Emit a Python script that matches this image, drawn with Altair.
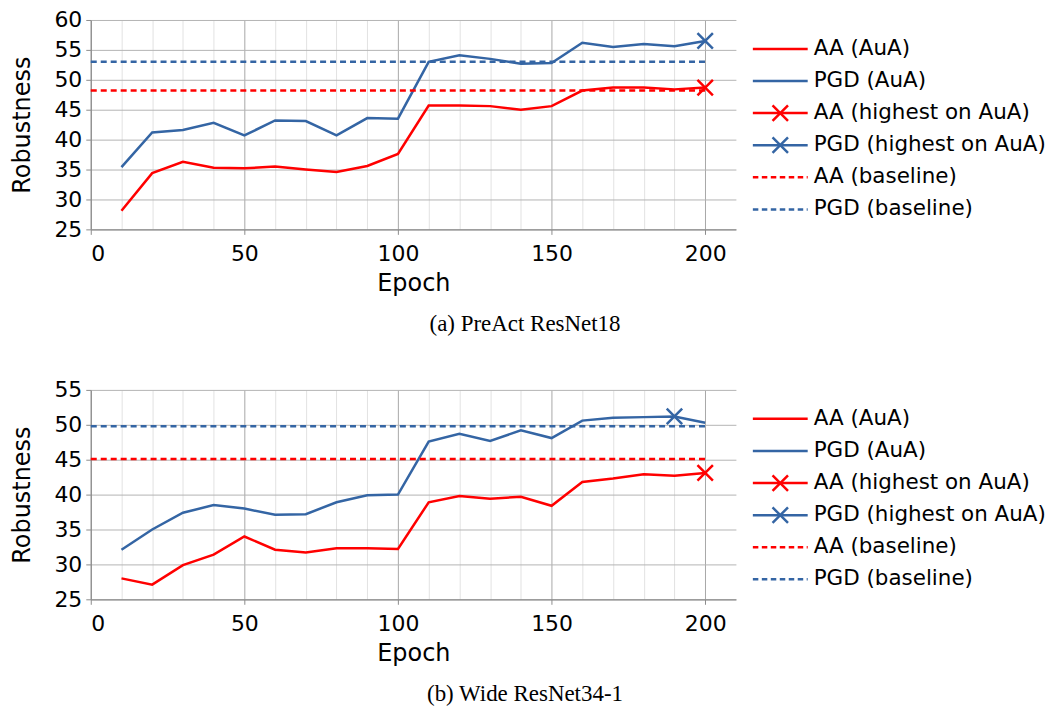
import altair as alt
import pandas as pd

# ---------------- data ----------------
epochs = [10, 20, 30, 40, 50, 60, 70, 80, 90, 100,
          110, 120, 130, 140, 150, 160, 170, 180, 190, 200]

a_aa = [28.1, 34.4, 36.3, 35.3, 35.2, 35.5, 35.0, 34.6, 35.6, 37.6,
        45.7, 45.7, 45.6, 45.0, 45.6, 48.2, 48.7, 48.7, 48.4, 48.7]
a_pgd = [35.4, 41.2, 41.6, 42.8, 40.7, 43.2, 43.1, 40.7, 43.6, 43.5,
         53.0, 54.1, 53.5, 52.7, 52.8, 56.2, 55.5, 56.0, 55.6, 56.5]
a_base = [48.2, 53.0]          # AA, PGD baselines
a_best = [200, 200]            # epoch of highest AuA: AA, PGD

b_aa = [28.0, 27.1, 29.9, 31.4, 34.0, 32.1, 31.7, 32.3, 32.3, 32.2,
        38.9, 39.8, 39.4, 39.7, 38.4, 41.8, 42.3, 42.9, 42.7, 43.1]
b_pgd = [32.1, 35.0, 37.4, 38.5, 38.0, 37.1, 37.2, 38.9, 39.9, 40.0,
         47.6, 48.7, 47.7, 49.2, 48.1, 50.6, 51.0, 51.1, 51.2, 50.3]
b_base = [45.1, 49.8]
b_best = [200, 190]

series = ["AA", "PGD"]
legend_labels = ["AA (AuA)", "PGD (AuA)", "AA (highest on AuA)",
                 "PGD (highest on AuA)", "AA (baseline)", "PGD (baseline)"]
legend_series = ["AA", "PGD", "AA", "PGD", "AA", "PGD"]
legend_kind = ["line", "line", "marker", "marker", "dash", "dash"]

RED = "#ff0000"
BLUE = "#3465a4"
COLORS = {"AA": RED, "PGD": BLUE}
XSHAPE = "M-1,-1L1,1M-1,1L1,-1"
FONT = "DejaVu Sans"


def panel(aa, pgd, base, best, ydom, height, caption):
    lines_df = pd.DataFrame({
        "epoch": epochs * 2,
        "value": aa + pgd,
        "series": ["AA"] * len(aa) + ["PGD"] * len(pgd),
    })
    base_df = pd.DataFrame({
        "series": series,
        "value": base,
        "x0": [0, 0],
        "x1": [epochs[-1], epochs[-1]],
    })
    best_vals = [aa[epochs.index(best[0])], pgd[epochs.index(best[1])]]
    best_df = pd.DataFrame({"series": series, "epoch": best, "value": best_vals})

    xscale = alt.Scale(domain=[0, 210], nice=False, zero=False)
    yscale = alt.Scale(domain=ydom, nice=False, zero=False)
    cscale = alt.Scale(domain=series, range=[RED, BLUE])

    xaxis = alt.Axis(
        values=list(range(0, 201, 10)),
        title="Epoch",
        labelOverlap=False,
        labelExpr="datum.value % 50 === 0 ? datum.label : ''",
        gridColor=alt.condition("datum.value % 50 === 0",
                                alt.value("#a8a8a8"), alt.value("#e2e2e2")),
        tickOpacity=alt.condition("datum.value % 50 === 0",
                                  alt.value(1), alt.value(0)),
    )
    yaxis = alt.Axis(values=list(range(ydom[0], ydom[1] + 1, 5)),
                     labelOverlap=False, title="Robustness")

    lines = alt.Chart(lines_df).mark_line(strokeWidth=2.5).encode(
        x=alt.X("epoch:Q", scale=xscale, axis=xaxis),
        y=alt.Y("value:Q", scale=yscale, axis=yaxis),
        color=alt.Color("series:N", scale=cscale, legend=None),
        detail="series:N",
    )
    baselines = alt.Chart(base_df).mark_rule(strokeWidth=2.5, strokeDash=[6, 4]).encode(
        x=alt.X("x0:Q", scale=xscale, axis=xaxis),
        x2="x1:Q",
        y=alt.Y("value:Q", scale=yscale, axis=yaxis),
        color=alt.Color("series:N", scale=cscale, legend=None),
    )
    bests = alt.Chart(best_df).mark_point(
        shape=XSHAPE, size=240, strokeWidth=2.5, filled=False, opacity=1
    ).encode(
        x=alt.X("epoch:Q", scale=xscale, axis=xaxis),
        y=alt.Y("value:Q", scale=yscale, axis=yaxis),
        color=alt.Color("series:N", scale=cscale, legend=None),
    )
    plot = alt.layer(lines, baselines, bests)

    # ----- hand-built legend (own ordinal scale) -----
    leg_df = pd.DataFrame({
        "label": legend_labels,
        "color": [COLORS[s] for s in legend_series],
        "kind": legend_kind,
    })
    lscale = alt.Scale(type="point", domain=legend_labels, range=[29, 190], padding=0)
    ly = alt.Y("label:N", scale=lscale, axis=None)
    lbase = alt.Chart(leg_df)
    leg_solid = lbase.transform_filter("datum.kind !== 'dash'").mark_rule(
        strokeWidth=2.5).encode(
        x=alt.value(664), x2=alt.value(719), y=ly,
        color=alt.Color("color:N", scale=None))
    leg_dash = lbase.transform_filter("datum.kind === 'dash'").mark_rule(
        strokeWidth=2.5, strokeDash=[5.5, 3.5]).encode(
        x=alt.value(664), x2=alt.value(719), y=ly,
        color=alt.Color("color:N", scale=None))
    leg_mark = lbase.transform_filter("datum.kind === 'marker'").mark_point(
        shape=XSHAPE, size=240, strokeWidth=2.5, filled=False, opacity=1).encode(
        x=alt.value(691.5), y=ly,
        color=alt.Color("color:N", scale=None))
    leg_text = lbase.mark_text(
        align="left", baseline="middle", font=FONT, fontSize=21.5, color="black"
    ).encode(x=alt.value(725), y=ly, text="label:N")
    legend = alt.layer(leg_solid, leg_dash, leg_mark, leg_text)

    return alt.layer(plot, legend).resolve_scale(y="independent").properties(
        width=647, height=height,
        title=alt.TitleParams(caption, orient="bottom", anchor="middle",
                              font="Liberation Serif", fontSize=23,
                              fontWeight="normal", color="black",
                              dx=112, offset=18),
    )


top = panel(a_aa, a_pgd, a_base, a_best, [25, 60], 210, "(a) PreAct ResNet18")
bottom = panel(b_aa, b_pgd, b_base, b_best, [25, 55], 210, "(b) Wide ResNet34-1")

chart = alt.vconcat(top, bottom, spacing=43).properties(
    padding={"left": 3, "top": 0, "right": 0, "bottom": 0}
).configure_view(stroke=None).configure_axis(
    labelFont=FONT, labelFontSize=22, labelColor="black", labelOverlap=False,
    titleFont=FONT, titleFontSize=24, titleFontWeight="normal", titleColor="black",
    domainColor="#8c8c8c", domainWidth=1.2, tickColor="#8c8c8c", tickSize=5,
    gridColor="#b4b4b4", gridWidth=1, labelPadding=4,
).configure_axisY(titlePadding=19).configure_axisX(labelPadding=9, titlePadding=7)

chart.save("out.html", embed_options={"renderer": "svg", "actions": False})
